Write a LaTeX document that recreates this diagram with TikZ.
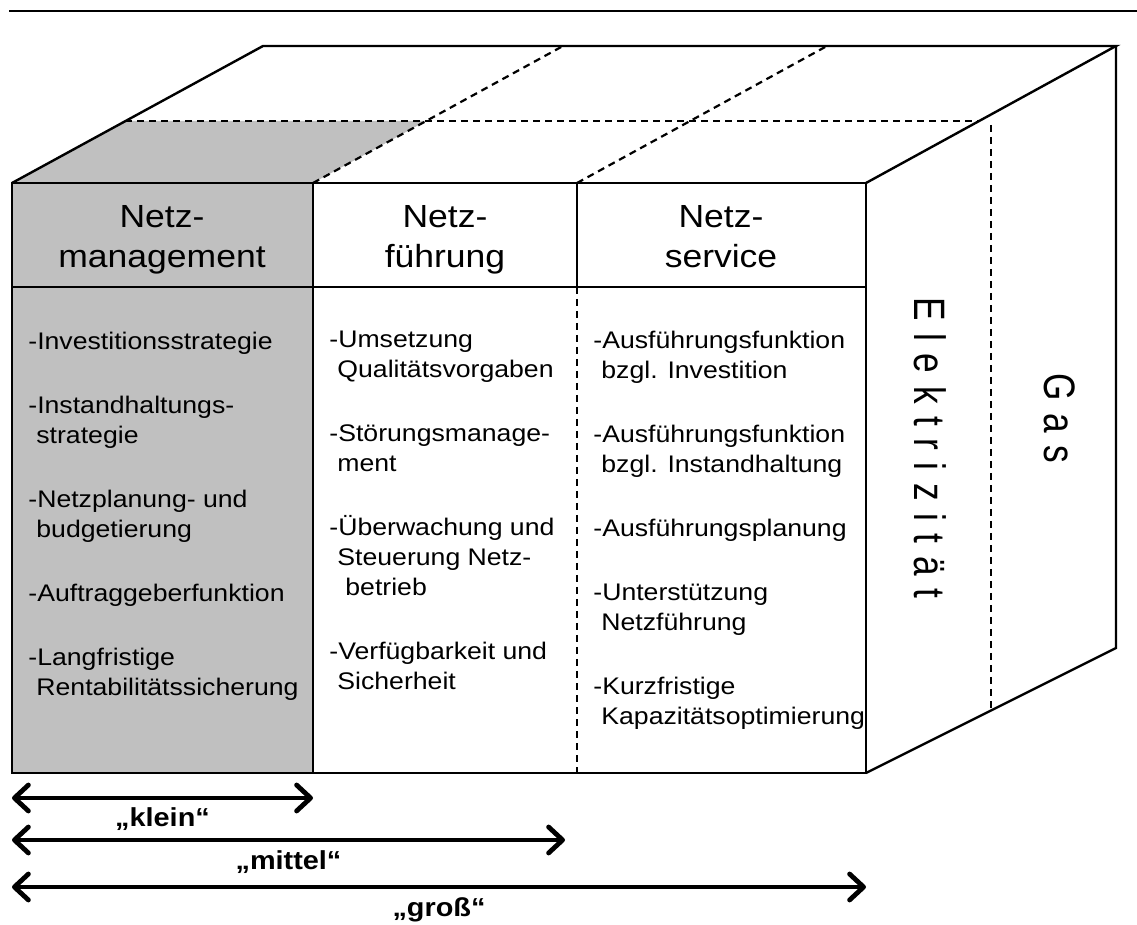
\documentclass[tikz,border=0pt]{standalone}
\usepackage{fontspec}
\setmainfont{Liberation Sans}[FakeStretch=1.11]
\newfontfamily\spacedfont{Liberation Sans}[FakeStretch=0.8]
\usetikzlibrary{positioning,arrows.meta}
\definecolor{mgmtgray}{RGB}{192,192,192}
\newcommand\ls{\kern6.3pt}
\tikzset{
  edge/.style={line width=1.2pt},
  hidden/.style={line width=1.1pt, dash pattern=on 3.5pt off 2.5pt},
  head/.style={inner sep=0pt, align=center, anchor=north, font=\fontsize{16}{20}\selectfont},
  tasks/.style={inner sep=0pt, align=left, anchor=north west, font=\fontsize{12}{15}\selectfont},
  span/.style={line width=2.4pt, {Straight Barb[length=7pt,width=13pt,round]}-{Straight Barb[length=7pt,width=13pt,round]}},
  spanlabel/.style={inner sep=0pt, anchor=base, yshift=-14.5pt, font=\bfseries\fontsize{13}{15}\selectfont},
  side/.style={inner sep=0pt, rotate=-90, anchor=base west, font=\spacedfont\fontsize{22}{26}\selectfont}
}
\begin{document}
\begin{tikzpicture}[x=0.5pt,y=-0.5pt]
  \useasboundingbox (0,0) rectangle (1137,925);
  % rule on top
  \draw[line width=1.2pt] (9,11) -- (1137,11);
  % front face corners
  \coordinate (ftl) at (12,183);
  \coordinate (ftr) at (866,183);
  \coordinate (fbl) at (12,773);
  \coordinate (fbr) at (866,773);
  % back corners
  \coordinate (btl) at (263,46);
  \coordinate (btr) at (1116,46);
  \coordinate (bbr) at (1116,648);
  % grey part
  \fill[mgmtgray] (ftl) rectangle (313,773);
  \fill[mgmtgray] (ftl) -- (125,121) -- (426,121) -- (313,183) -- cycle;
  % top and right face
  \draw[edge] (ftl) -- (btl) -- (btr) -- (ftr);
  \draw[edge] (btr) -- (bbr) -- (fbr);
  % dashed lines
  \draw[hidden] (125,121) -- (980,121);
  \draw[hidden] (313,183) -- (563,46);
  \draw[hidden] (577,183) -- (827,46);
  \draw[hidden] (991,125) -- (991,710);
  % front face
  \draw[edge] (ftl) rectangle (fbr);
  \draw[edge] (12,287) -- (866,287);
  \draw[edge] (313,183) -- (313,773);
  \draw[edge] (577,183) -- (577,287);
  \draw[hidden] (577,287) -- (577,773);

  % headers
  \node[head] (mgmt) at (162,205) {Netz-\\management};
  \node[head] (fuehr) at (445,205) {Netz-\\führung};
  \node[head] (serv) at (721,205) {Netz-\\service};

  % tasks
  \node[tasks] (mgmttasks) at (28,332) {-Investitionsstrategie\\[17pt]
    -Instandhaltungs-\\\hspace*{4pt}strategie\\[17pt]
    -Netzplanung- und\\\hspace*{4pt}budgetierung\\[17pt]
    -Auftraggeberfunktion\\[17pt]
    -Langfristige\\\hspace*{4pt}Rentabilitätssicherung};
  \node[tasks] (fuehrtasks) at (329,331) {-Umsetzung\\\hspace*{4pt}Qualitätsvorgaben\\[17pt]
    -Störungsmanage-\\\hspace*{4pt}ment\\[17pt]
    -Überwachung und\\\hspace*{4pt}Steuerung Netz-\\\hspace*{8pt}betrieb\\[17pt]
    -Verfügbarkeit und\\\hspace*{4pt}Sicherheit};
  \node[tasks] (servtasks) at (593,331) {-Ausführungsfunktion\\\hspace*{4pt}bzgl. Investition\\[17pt]
    -Ausführungsfunktion\\\hspace*{4pt}bzgl. Instandhaltung\\[17pt]
    -Ausführungsplanung\\[17pt]
    -Unterstützung\\\hspace*{4pt}Netzführung\\[17pt]
    -Kurzfristige\\\hspace*{4pt}Kapazitätsoptimierung};

  % side labels
  \node[side] (elec) at (914,297) {E\ls l\ls e\ls k\ls t\ls r\ls i\ls z\ls i\ls t\ls ä\ls t};
  \node[side] (gas) at (1044,373) {G\ls a\ls s};

  % size arrows
  \coordinate (kleinL) at (12,798);
  \coordinate (kleinR) at (313,798);
  \coordinate (mittelL) at (12,840);
  \coordinate (mittelR) at (565,840);
  \coordinate (grossL) at (12,887);
  \coordinate (grossR) at (866,887);
  \draw[span] (kleinL) -- (kleinR) node[spanlabel, midway] (klein) {„klein“};
  \draw[span] (mittelL) -- (mittelR) node[spanlabel, midway] (mittel) {„mittel“};
  \draw[span] (grossL) -- (grossR) node[spanlabel, midway] (gross) {„groß“};
\end{tikzpicture}
\end{document}
